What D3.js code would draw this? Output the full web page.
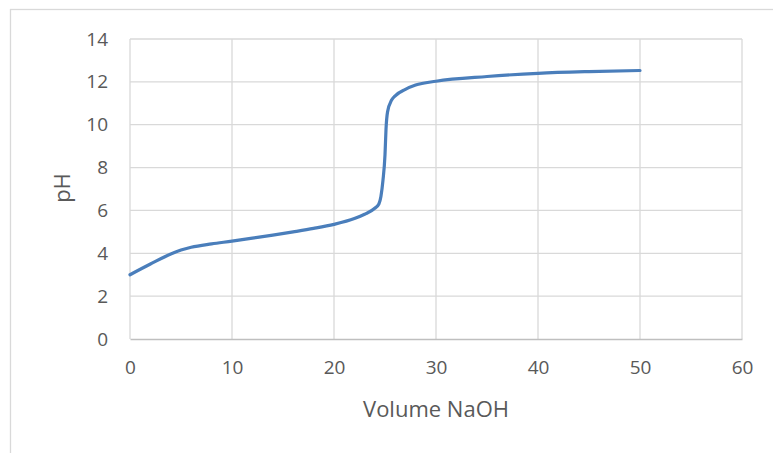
<!DOCTYPE html>
<html>
<head>
<meta charset="utf-8">
<script src="https://cdn.jsdelivr.net/npm/d3@7"></script>
<style>
  html, body { margin: 0; padding: 0; background: #fff; }
  svg { display: block; }
  text { font-family: "Open Sans", "Liberation Sans", sans-serif; }
</style>
</head>
<body>
<svg id="chart" width="773" height="453"></svg>
<script>
const volume = [0, 2, 4, 5, 6, 8, 10, 12, 14, 16, 18, 20, 22, 23, 24, 24.4, 24.6, 24.8, 25.0, 25.1, 25.25, 25.65, 26, 27, 28, 30, 35, 40, 45, 50];
const pH     = [3.0, 3.5, 3.97, 4.15, 4.28, 4.44, 4.57, 4.71, 4.85, 5.0, 5.16, 5.35, 5.62, 5.82, 6.1, 6.3, 6.65, 7.4, 8.6, 9.8, 10.6, 11.15, 11.35, 11.65, 11.85, 12.03, 12.25, 12.4, 12.48, 12.53];
const xTicks = [0, 10, 20, 30, 40, 50, 60];
const yTicks = [0, 2, 4, 6, 8, 10, 12, 14];
const xTitle = "Volume NaOH";
const yTitle = "pH";

const svg = d3.select("#chart");
const x = d3.scaleLinear().domain([0, 60]).range([130, 742]);
const y = d3.scaleLinear().domain([0, 14]).range([339, 39]);

// outer chart frame
svg.append("rect")
  .attr("x", 10.5).attr("y", 9.5)
  .attr("width", 820).attr("height", 520)
  .attr("fill", "#fff").attr("stroke", "#d9d9d9").attr("stroke-width", 1.3);

// gridlines
svg.append("g").selectAll("line.h").data(yTicks.filter(d => d !== 0)).join("line")
  .attr("x1", x(0)).attr("x2", x(60))
  .attr("y1", d => y(d)).attr("y2", d => y(d))
  .attr("stroke", "#d9d9d9").attr("stroke-width", 1.3);
svg.append("g").selectAll("line.v").data(xTicks).join("line")
  .attr("x1", d => x(d)).attr("x2", d => x(d))
  .attr("y1", y(0)).attr("y2", y(14))
  .attr("stroke", "#d9d9d9").attr("stroke-width", 1.3);

// x axis
const gx = svg.append("g").attr("transform", `translate(0,${y(0)})`)
  .call(d3.axisBottom(x).tickValues(xTicks).tickSize(0).tickPadding(22).tickFormat(d3.format("d")));
gx.select(".domain").attr("stroke", "#bfbfbf").attr("stroke-width", 1.5);
gx.selectAll("text").attr("font-size", 19).attr("fill", "#595959")
  .attr("font-family", "'Open Sans', sans-serif");

// y axis
const gy = svg.append("g").attr("transform", `translate(${x(0)},0)`)
  .call(d3.axisLeft(y).tickValues(yTicks).tickSize(0).tickPadding(22).tickFormat(d3.format("d")));
gy.select(".domain").remove();
gy.selectAll("text").attr("font-size", 19).attr("fill", "#595959")
  .attr("font-family", "'Open Sans', sans-serif");

// titles
svg.append("text").attr("x", 436).attr("y", 417)
  .attr("text-anchor", "middle").attr("font-size", 22).attr("fill", "#595959")
  .text(xTitle);
svg.append("text").attr("transform", "translate(70,188) rotate(-90)")
  .attr("text-anchor", "middle").attr("font-size", 22).attr("fill", "#595959")
  .text(yTitle);

// curve
const pts = volume.map((v, i) => [v, pH[i]]);
svg.append("path")
  .datum(pts)
  .attr("fill", "none")
  .attr("stroke", "#4a7ebb")
  .attr("stroke-width", 3.2)
  .attr("stroke-linecap", "round")
  .attr("stroke-linejoin", "round")
  .attr("d", d3.line().x(d => x(d[0])).y(d => y(d[1])).curve(d3.curveMonotoneX));
</script>
</body>
</html>
